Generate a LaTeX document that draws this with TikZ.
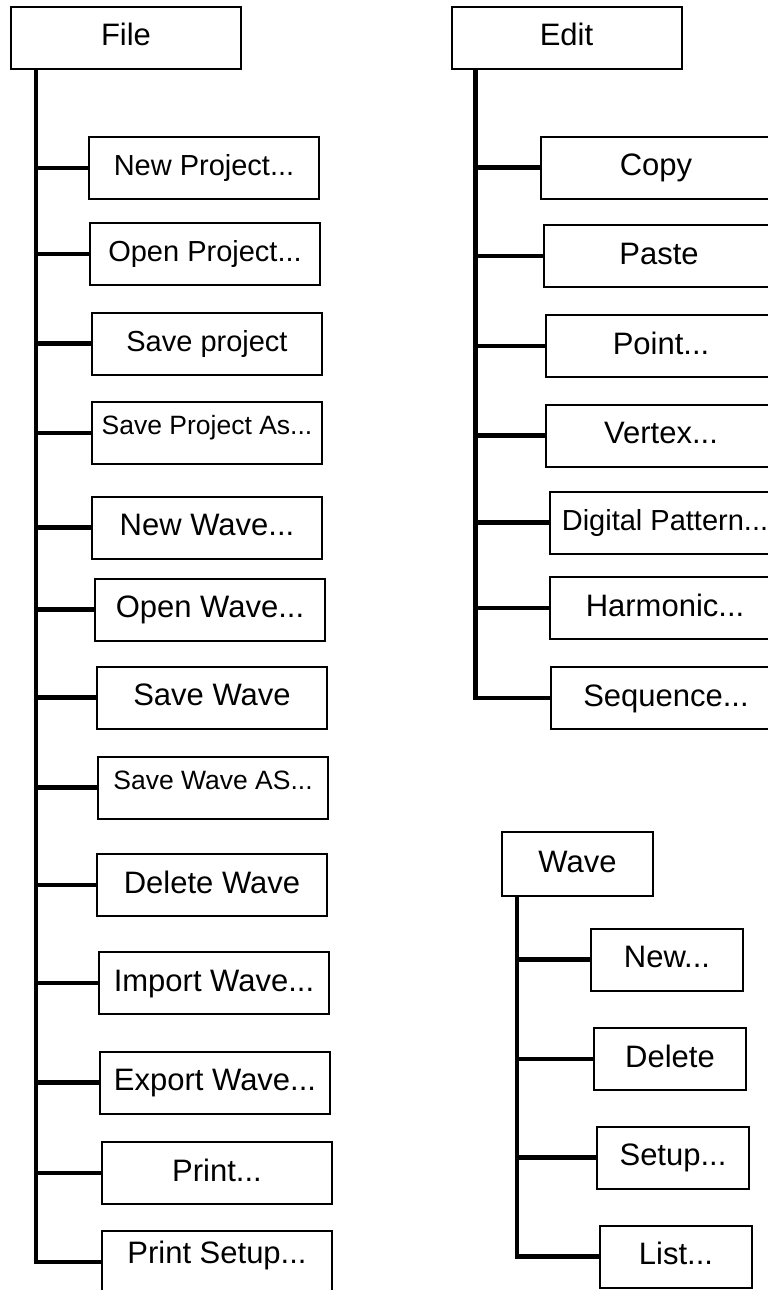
\documentclass[tikz,border=0pt]{standalone}
\usepackage{fontspec}
\setmainfont{Liberation Sans}
\tikzset{
	menubox/.style={draw, line width=2pt, minimum width=230pt, minimum height=62pt, inner sep=0pt,
		text height=22pt, text depth=6pt, font=\fontsize{31}{36}\selectfont},
	sznorm/.style={},
	szmid/.style={font=\fontsize{29}{34}\selectfont, text height=21pt},
	szsmall/.style={font=\fontsize{26.5}{31}\selectfont, text height=19pt, text depth=16pt},
	szup/.style={text depth=20pt},
	trunk/.style={line width=4.5pt},
}
\begin{document}
\begin{tikzpicture}[x=1pt, y=-1pt]
	\useasboundingbox (0,0) rectangle (768,1290);
	\clip (0,0) rectangle (768,1290);
	%file menu
	\node[menubox] (file) at (126, 38) {File};
	\coordinate (filetrunk) at ([xshift=26pt]file.south west);
	\foreach \lbl/\xl/\yc/\sz [count=\i] in {{New Project...}/88/168/szmid, {Open Project...}/89/254/szmid,
		{Save project}/91/343.5/szmid, {Save Project As...}/91/433/szsmall, {New Wave...}/91/527.5/sznorm,
		{Open Wave...}/94/609.5/sznorm, {Save Wave}/96/697.5/sznorm, {Save Wave AS...}/97/787.5/szsmall,
		{Delete Wave}/96/885/sznorm, {Import Wave...}/98/983/sznorm, {Export Wave...}/99/1082.5/sznorm,
		{Print...}/101/1173/sznorm, {Print Setup...}/101/1262/szup} {
		\node[menubox, \sz, anchor=west] (file\i) at (\xl, \yc) {\lbl};
		\draw[trunk] (file\i.west) -- (file\i.west -| filetrunk);
	}
	\draw[trunk] (filetrunk) |- (file13.west);
	%edit menu
	\node[menubox] (edit) at (566.5, 38) {Edit};
	\coordinate (edittrunk) at ([xshift=25pt]edit.south west);
	\foreach \lbl/\xl/\yc/\sz [count=\i] in {{Copy}/540/167.5/sznorm, {Paste}/543/256/sznorm,
		{Point...}/545/346/sznorm, {Vertex...}/545/435.5/sznorm, {Digital Pattern...}/549/522.5/szmid,
		{Harmonic...}/549/608/sznorm, {Sequence...}/550/698/sznorm} {
		\node[menubox, \sz, anchor=west] (edit\i) at (\xl, \yc) {\lbl};
		\draw[trunk] (edit\i.west) -- (edit\i.west -| edittrunk);
	}
	\draw[trunk] (edittrunk) |- (edit7.west);
	%wave menu
	\node[menubox, minimum width=151pt, minimum height=64pt] (wave) at (577.5, 864) {Wave};
	\coordinate (wavetrunk) at ([xshift=16pt]wave.south west);
	\foreach \lbl/\xl/\yc [count=\i] in {{New...}/590/959.5, {Delete}/593/1059,
		{Setup...}/596/1157.5, {List...}/599/1256.5} {
		\node[menubox, minimum width=152pt, anchor=west] (wave\i) at (\xl, \yc) {\lbl};
		\draw[trunk] (wave\i.west) -- (wave\i.west -| wavetrunk);
	}
	\draw[trunk] (wavetrunk) |- (wave4.west);
\end{tikzpicture}
\end{document}
